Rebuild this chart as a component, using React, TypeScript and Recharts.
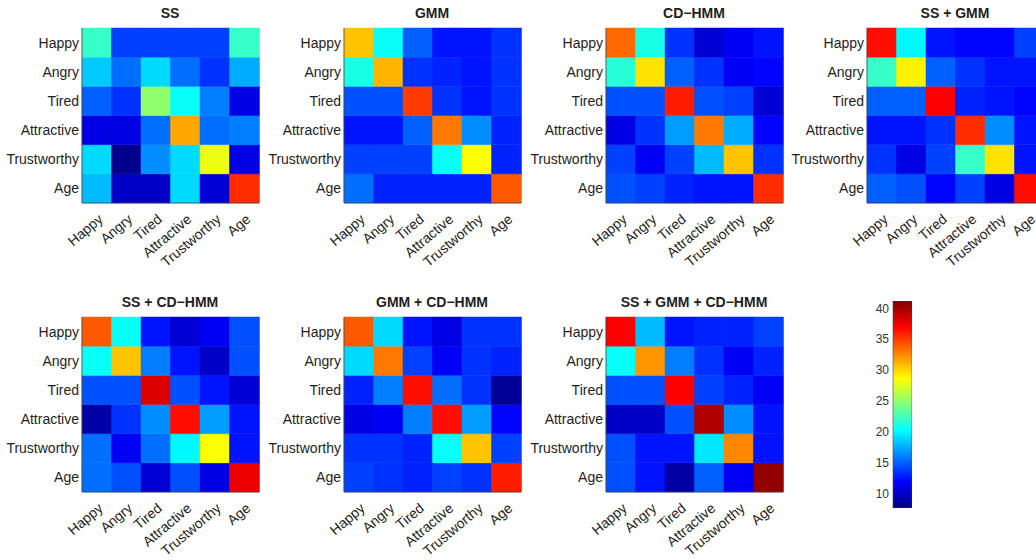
import React from "react";
import { BarChart, Bar, XAxis, YAxis, Cell } from "recharts";

const LABELS = ["Happy", "Angry", "Tired", "Attractive", "Trustworthy", "Age"];
const CB_TICKS = [10, 15, 20, 25, 30, 35, 40];
const CB_MIN = 7.7;
const CB_MAX = 41.1;

// rows = true class (top to bottom), cols = predicted class (left to right)
const SS = [
  [22, 14, 14, 14, 14, 22],
  [18.5, 15.5, 19, 15.5, 13.5, 17.5],
  [15, 13.5, 25, 20.5, 16, 11],
  [11, 11, 15.5, 31.5, 15.5, 16],
  [19, 8.2, 16.5, 19, 28, 11],
  [18, 10, 10, 19, 10.5, 35.5],
];
const GMM = [
  [30.5, 20.5, 15, 12.5, 12.5, 13.5],
  [21, 31, 13.5, 13, 12.5, 13.5],
  [14.5, 14.5, 35, 13.5, 12.5, 13.5],
  [12.5, 12.5, 15, 33, 16.5, 13],
  [14, 14, 14, 20.5, 28.5, 13],
  [15.5, 13, 13, 13, 13, 34],
];
const CDHMM = [
  [33.5, 21, 13.5, 10.5, 11.5, 12.5],
  [21.5, 29.5, 15, 13.5, 11.5, 12],
  [14.5, 14.5, 36, 14.5, 14, 10.5],
  [11, 13.5, 17, 33, 17.5, 12],
  [14, 11.5, 14, 18, 30.5, 13.5],
  [14.5, 14, 13, 12.5, 12.5, 35.5],
];
const SS_GMM = [
  [36.5, 20, 12.5, 12, 12, 14],
  [22, 29, 15, 13.5, 12.5, 12.5],
  [15, 15, 37, 13, 12.5, 12],
  [12.5, 12.5, 13.5, 35.5, 16.5, 12.5],
  [13.5, 11, 14, 22, 29.5, 12.5],
  [15, 14.5, 12, 14, 11, 36.5],
];
const SS_CDHMM = [
  [34, 20.5, 12.5, 10.5, 11.5, 14.5],
  [20.5, 30.5, 16, 12.5, 10, 14.5],
  [14.5, 14.5, 38, 14.5, 12.5, 10.5],
  [9, 13.5, 16.5, 36.5, 17, 12.5],
  [15.5, 11.5, 15.5, 20, 28.5, 12.5],
  [15.5, 14.5, 10.5, 14.5, 11, 37.5],
];
const GMM_CDHMM = [
  [34, 19, 12.5, 11, 13.5, 13.5],
  [19, 33, 14, 11.5, 13.5, 13],
  [13, 16, 36.5, 15.5, 13.5, 8.5],
  [11, 11.5, 16, 36.5, 17, 12],
  [13.5, 13.5, 13, 20.5, 30.5, 14],
  [14, 13.5, 13, 14, 13.5, 36],
];
const SS_GMM_CDHMM = [
  [37, 18, 12.5, 13, 13, 14],
  [20.5, 32, 16, 13.5, 11.5, 13],
  [14.5, 14.5, 37, 14, 13, 11.5],
  [10, 10, 14.5, 39.5, 16.5, 12.5],
  [14.5, 12.5, 12.5, 19.5, 32.5, 12.5],
  [14.5, 12.5, 9, 15, 11.5, 40.5],
];

const FONT = '"Liberation Sans", Arial, Helvetica, sans-serif';
const TXT = "#1e1e1e";

const clamp = (v: number) => Math.max(0, Math.min(1, v));
function jetT(t: number): string {
  const r = clamp(1.5 - Math.abs(4 * t - 3));
  const g = clamp(1.5 - Math.abs(4 * t - 2));
  const b = clamp(1.5 - Math.abs(4 * t - 1));
  const h = (x: number) => Math.round(x * 255).toString(16).padStart(2, "0");
  return "#" + h(r) + h(g) + h(b);
}
const jet = (v: number) => jetT((v - CB_MIN) / (CB_MAX - CB_MIN));

const PW = 176; // plot width
const PH = 175; // plot height
const YW = 90; // y axis width
const XH = 70; // x axis height

const RotTick = (props: any) => {
  const { x, y, payload } = props;
  return (
    <g transform={`translate(${x + 4},${y + 14})`}>
      <text
        x={0}
        y={0}
        dy="0.35em"
        textAnchor="end"
        transform="rotate(-40)"
        fontSize={14}
        fontFamily={FONT}
        fill={TXT}
      >
        {payload.value}
      </text>
    </g>
  );
};

function Heatmap({ title, matrix, x0, y0 }: { title: string; matrix: number[][]; x0: number; y0: number }) {
  const data = LABELS.map((name) => {
    const d: any = { name };
    LABELS.forEach((_, r) => (d["r" + r] = 1));
    return d;
  });
  const rowsBottomUp = [5, 4, 3, 2, 1, 0];
  return (
    <>
      <div
        style={{
          position: "absolute",
          left: x0,
          width: PW,
          top: y0 - 23,
          textAlign: "center",
          fontFamily: FONT,
          fontWeight: "bold",
          fontSize: 14,
          color: TXT,
          lineHeight: "16px",
          whiteSpace: "nowrap",
        }}
      >
        {title}
      </div>
      <div style={{ position: "absolute", left: x0 - YW, top: y0 - 1 }}>
        <BarChart
          width={YW + PW + 2}
          height={PH + XH + 1}
          data={data}
          margin={{ top: 1, right: 1, left: 0, bottom: 0 }}
          barCategoryGap={0}
          barGap={0}
        >
          <XAxis
            dataKey="name"
            height={XH}
            interval={0}
            tickSize={0}
            tickMargin={0}
            axisLine={{ stroke: "#444", strokeWidth: 0.8 }}
            tick={<RotTick />}
          />
          <XAxis xAxisId="top" dataKey="name" orientation="top" height={0} tick={false} tickSize={0} axisLine={{ stroke: "#444", strokeWidth: 0.8 }} />
          <YAxis
            type="number"
            domain={[0, 6]}
            ticks={[0.5, 1.5, 2.5, 3.5, 4.5, 5.5]}
            tickFormatter={(v: number) => LABELS[5 - Math.floor(v)]}
            width={YW}
            tickSize={0}
            tickMargin={3}
            axisLine={{ stroke: "#444", strokeWidth: 0.8 }}
            tick={{ fontSize: 14, fill: TXT, fontFamily: FONT }}
            interval={0}
          />
          <YAxis yAxisId="right" orientation="right" type="number" domain={[0, 6]} width={0} tick={false} tickSize={0} axisLine={{ stroke: "#444", strokeWidth: 0.8 }} />
          {rowsBottomUp.map((r) => (
            <Bar key={r} dataKey={"r" + r} stackId="s" isAnimationActive={false}>
              {LABELS.map((_, c) => (
                <Cell key={c} fill={jet(matrix[r][c])} stroke={jet(matrix[r][c])} strokeWidth={0.5} />
              ))}
            </Bar>
          ))}
        </BarChart>
      </div>
    </>
  );
}

function Colorbar() {
  const data = [{ name: "cb", range: [CB_MIN, CB_MAX] }];
  const stops = [0, 0.125, 0.375, 0.625, 0.875, 1];
  return (
    <div style={{ position: "absolute", left: 893 - 40, top: 301 }}>
      <BarChart width={40 + 19} height={207} data={data} margin={{ top: 0, right: 0, left: 0, bottom: 0 }} barCategoryGap={0}>
        <defs>
          <linearGradient id="jetGrad" x1="0" y1="1" x2="0" y2="0">
            {stops.map((s) => (
              <stop key={s} offset={s} stopColor={jetT(s)} />
            ))}
          </linearGradient>
        </defs>
        <XAxis dataKey="name" hide />
        <YAxis
          type="number"
          domain={[CB_MIN, CB_MAX]}
          ticks={CB_TICKS}
          width={40}
          tickSize={0}
          tickMargin={4}
          axisLine={false}
          tick={{ fontSize: 12, fill: "#333", fontFamily: FONT }}
          allowDataOverflow
        />
        <Bar dataKey="range" fill="url(#jetGrad)" stroke="#444" strokeWidth={0.6} isAnimationActive={false} />
      </BarChart>
    </div>
  );
}

export default function App() {
  return (
    <div
      style={{
        position: "absolute",
        left: 0,
        top: 0,
        width: 1036,
        height: 560,
        overflow: "hidden",
        background: "#fff",
        fontFamily: FONT,
      }}
    >
      <Heatmap title="SS" matrix={SS} x0={82} y0={28} />
      <Heatmap title="GMM" matrix={GMM} x0={344} y0={28} />
      <Heatmap title="CD−HMM" matrix={CDHMM} x0={606} y0={28} />
      <Heatmap title="SS + GMM" matrix={SS_GMM} x0={867} y0={28} />
      <Heatmap title="SS + CD−HMM" matrix={SS_CDHMM} x0={82} y0={317} />
      <Heatmap title="GMM + CD−HMM" matrix={GMM_CDHMM} x0={344} y0={317} />
      <Heatmap title="SS + GMM + CD−HMM" matrix={SS_GMM_CDHMM} x0={606} y0={317} />
      <Colorbar />
    </div>
  );
}
